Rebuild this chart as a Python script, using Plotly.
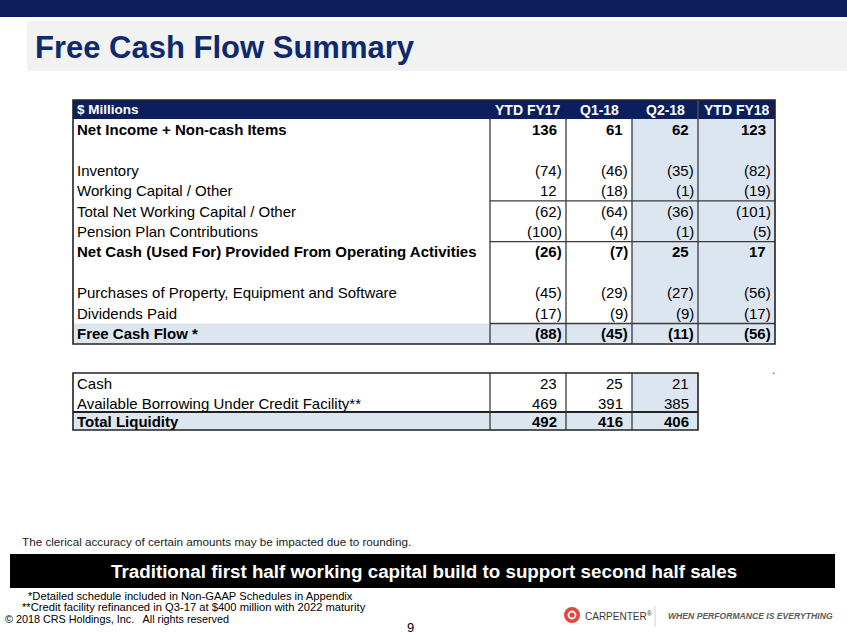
import plotly.graph_objects as go

# ---- data ----
col_headers = ["YTD FY17", "Q1-18", "Q2-18", "YTD FY18"]
row_labels = [
    "Net Income + Non-cash Items",
    "",
    "Inventory",
    "Working Capital / Other",
    "Total Net Working Capital / Other",
    "Pension Plan Contributions",
    "Net Cash (Used For) Provided From Operating Activities",
    "",
    "Purchases of Property, Equipment and Software",
    "Dividends Paid",
    "Free Cash Flow *",
]
ytd_fy17 = [136, None, -74, 12, -62, -100, -26, None, -45, -17, -88]
q1_18 = [61, None, -46, -18, -64, -4, -7, None, -29, -9, -45]
q2_18 = [62, None, -35, -1, -36, -1, 25, None, -27, -9, -11]
ytd_fy18 = [123, None, -82, -19, -101, -5, 17, None, -56, -17, -56]
bold_rows = [0, 6, 10]

liq_labels = ["Cash", "Available Borrowing Under Credit Facility**", "Total Liquidity"]
liq_fy17 = [23, 469, 492]
liq_q1 = [25, 391, 416]
liq_q2 = [21, 385, 406]

# ---- style ----
FONT = "Liberation Sans, Arial, sans-serif"
NAVY = "#0c1f5c"
TITLE_NAVY = "#0d2a6e"
LIGHT_BLUE = "#dce6f1"
GRID = "#3a3a3a"

W, H = 847, 635
X0 = 73
EDGES = [490, 566, 632, 698, 775]   # column boundaries of the main table
HEAD_TOP, HEAD_BOT = 100, 119
ROW_H = 20.45

LIQ_ROWS = [373, 393, 412, 430]

shapes = []
annotations = []


def rect(x0, x1, y0, y1, fill, line=None, lw=0):
    shapes.append(dict(type="rect", xref="x", yref="y", x0=x0, x1=x1, y0=y0, y1=y1,
                       fillcolor=fill, line=dict(color=line or fill, width=lw),
                       layer="below"))


def hline(x0, x1, y, color=GRID, lw=1.3):
    shapes.append(dict(type="line", xref="x", yref="y", x0=x0, x1=x1, y0=y, y1=y,
                       line=dict(color=color, width=lw)))


def vline(x, y0, y1, color=GRID, lw=1.3):
    shapes.append(dict(type="line", xref="x", yref="y", x0=x, x1=x, y0=y0, y1=y1,
                       line=dict(color=color, width=lw)))


def text(x, y, s, size=15, color="black", anchor="left", bold=False, italic=False):
    annotations.append(dict(x=x, y=y, xref="x", yref="y", text=s, showarrow=False,
                            xanchor=anchor, yanchor="middle", borderpad=0,
                            font=dict(family=FONT, size=size, color=color,
                                      weight="bold" if bold else "normal",
                                      style="italic" if italic else "normal")))


def num(v, col_right, y, bold):
    if v is None:
        return
    if v < 0:
        text(col_right - 3, y, "(%d)" % abs(v), anchor="right", bold=bold)
    else:
        text(col_right - 8, y, "%d" % v, anchor="right", bold=bold)


# ---- slide header ----
rect(0, W, 0, 17, NAVY)
rect(27, W, 21, 71, "#f2f2f2")
text(34, 47, "Free Cash Flow Summary", size=31, color=TITLE_NAVY, bold=True)

# ---- main table ----
n = len(row_labels)
body_bot = HEAD_BOT + n * ROW_H
rect(X0, EDGES[-1], HEAD_TOP, HEAD_BOT, NAVY)
rect(EDGES[2], EDGES[-1], HEAD_BOT, body_bot, LIGHT_BLUE)
rect(X0, EDGES[-1], HEAD_BOT + 10 * ROW_H, body_bot, LIGHT_BLUE)

text(X0 + 3, (HEAD_TOP + HEAD_BOT) / 2, "$ Millions", size=13.5, color="white", bold=True)
for i, h in enumerate(col_headers):
    text((EDGES[i] + EDGES[i + 1]) / 2, (HEAD_TOP + HEAD_BOT) / 2, h, size=14,
         color="white", anchor="center", bold=True)

for r in [4, 6, 10]:
    hline(EDGES[0], EDGES[-1], HEAD_BOT + r * ROW_H)
for x in EDGES[:-1]:
    vline(x, HEAD_BOT, body_bot)
vline(EDGES[3], HEAD_TOP, HEAD_BOT, color="#555555")
shapes.append(dict(type="rect", xref="x", yref="y", x0=X0, x1=EDGES[-1], y0=HEAD_TOP,
                   y1=body_bot, line=dict(color="#222222", width=1.6)))

for i, lab in enumerate(row_labels):
    yc = HEAD_BOT + (i + 0.5) * ROW_H
    b = i in bold_rows
    if lab:
        text(X0 + 3, yc, lab, bold=b)
    for j, series in enumerate([ytd_fy17, q1_18, q2_18, ytd_fy18]):
        num(series[i], EDGES[j + 1], yc, b)

# ---- liquidity table ----
liq_right = EDGES[3]
rect(EDGES[2], liq_right, LIQ_ROWS[0], LIQ_ROWS[-1], LIGHT_BLUE)
rect(X0, liq_right, LIQ_ROWS[2], LIQ_ROWS[3], LIGHT_BLUE)
hline(X0, liq_right, LIQ_ROWS[2], color="#222222", lw=2)
for x in EDGES[:3]:
    vline(x, LIQ_ROWS[0], LIQ_ROWS[-1])
shapes.append(dict(type="rect", xref="x", yref="y", x0=X0, x1=liq_right, y0=LIQ_ROWS[0],
                   y1=LIQ_ROWS[-1], line=dict(color="#222222", width=1.6)))
for i, lab in enumerate(liq_labels):
    yc = (LIQ_ROWS[i] + LIQ_ROWS[i + 1]) / 2 + 0.5
    b = i == 2
    text(X0 + 3, yc, lab, bold=b)
    for j, series in enumerate([liq_fy17, liq_q1, liq_q2]):
        num(series[i], EDGES[j + 1], yc, b)
text(773, 370, ".", size=12, color="#555555", anchor="center")

# ---- footer ----
text(21, 541, "The clerical accuracy of certain amounts may be impacted due to rounding.",
     size=11.7, color="#222222")
rect(10, 835, 554, 588, "black")
text(424, 571, "Traditional first half working capital build to support second half sales",
     size=18.8, color="white", anchor="center", bold=True)
text(27, 595.5, "*Detailed schedule included in Non-GAAP Schedules in Appendix", size=11.2)
text(21, 606.5, "**Credit facility refinanced in Q3-17 at $400 million with 2022 maturity",
     size=11.2)
text(4, 619, "\u00a9 2018 CRS Holdings, Inc.   All rights reserved", size=10.8)
text(410, 627, "9", size=13, anchor="center")

# logo
shapes.append(dict(type="circle", xref="x", yref="y", x0=564, x1=580, y0=607, y1=623,
                   fillcolor="#e2483d", line=dict(color="#e2483d", width=0)))
shapes.append(dict(type="circle", xref="x", yref="y", x0=568.5, x1=575.5, y0=611.5,
                   y1=618.5, fillcolor="rgba(0,0,0,0)", line=dict(color="white", width=1.8)))
text(584, 615.5, "CARPENTER<sup>\u00ae</sup>", size=10, color="#3a3a3a")
vline(655, 606, 627, color="#d0d0d0", lw=1)
text(667, 615.5, "WHEN PERFORMANCE IS EVERYTHING", size=8.6, color="#5a5a5a",
     bold=True, italic=True)

fig = go.Figure()
# invisible trace to anchor the page-coordinate axes
fig.add_trace(go.Scatter(x=[0, W], y=[0, H], mode="markers", marker=dict(opacity=0),
                         hoverinfo="skip", showlegend=False))
fig.update_layout(
    width=W, height=H,
    margin=dict(l=0, r=0, t=0, b=0),
    paper_bgcolor="white", plot_bgcolor="white",
    xaxis=dict(range=[0, W], visible=False, fixedrange=True),
    yaxis=dict(range=[H, 0], visible=False, fixedrange=True),
    shapes=shapes, annotations=annotations,
    showlegend=False,
)
fig.write_html("out.html", config={"displayModeBar": False},
               post_script="document.body.style.margin='0px';"
                           "document.body.style.overflow='hidden';")
